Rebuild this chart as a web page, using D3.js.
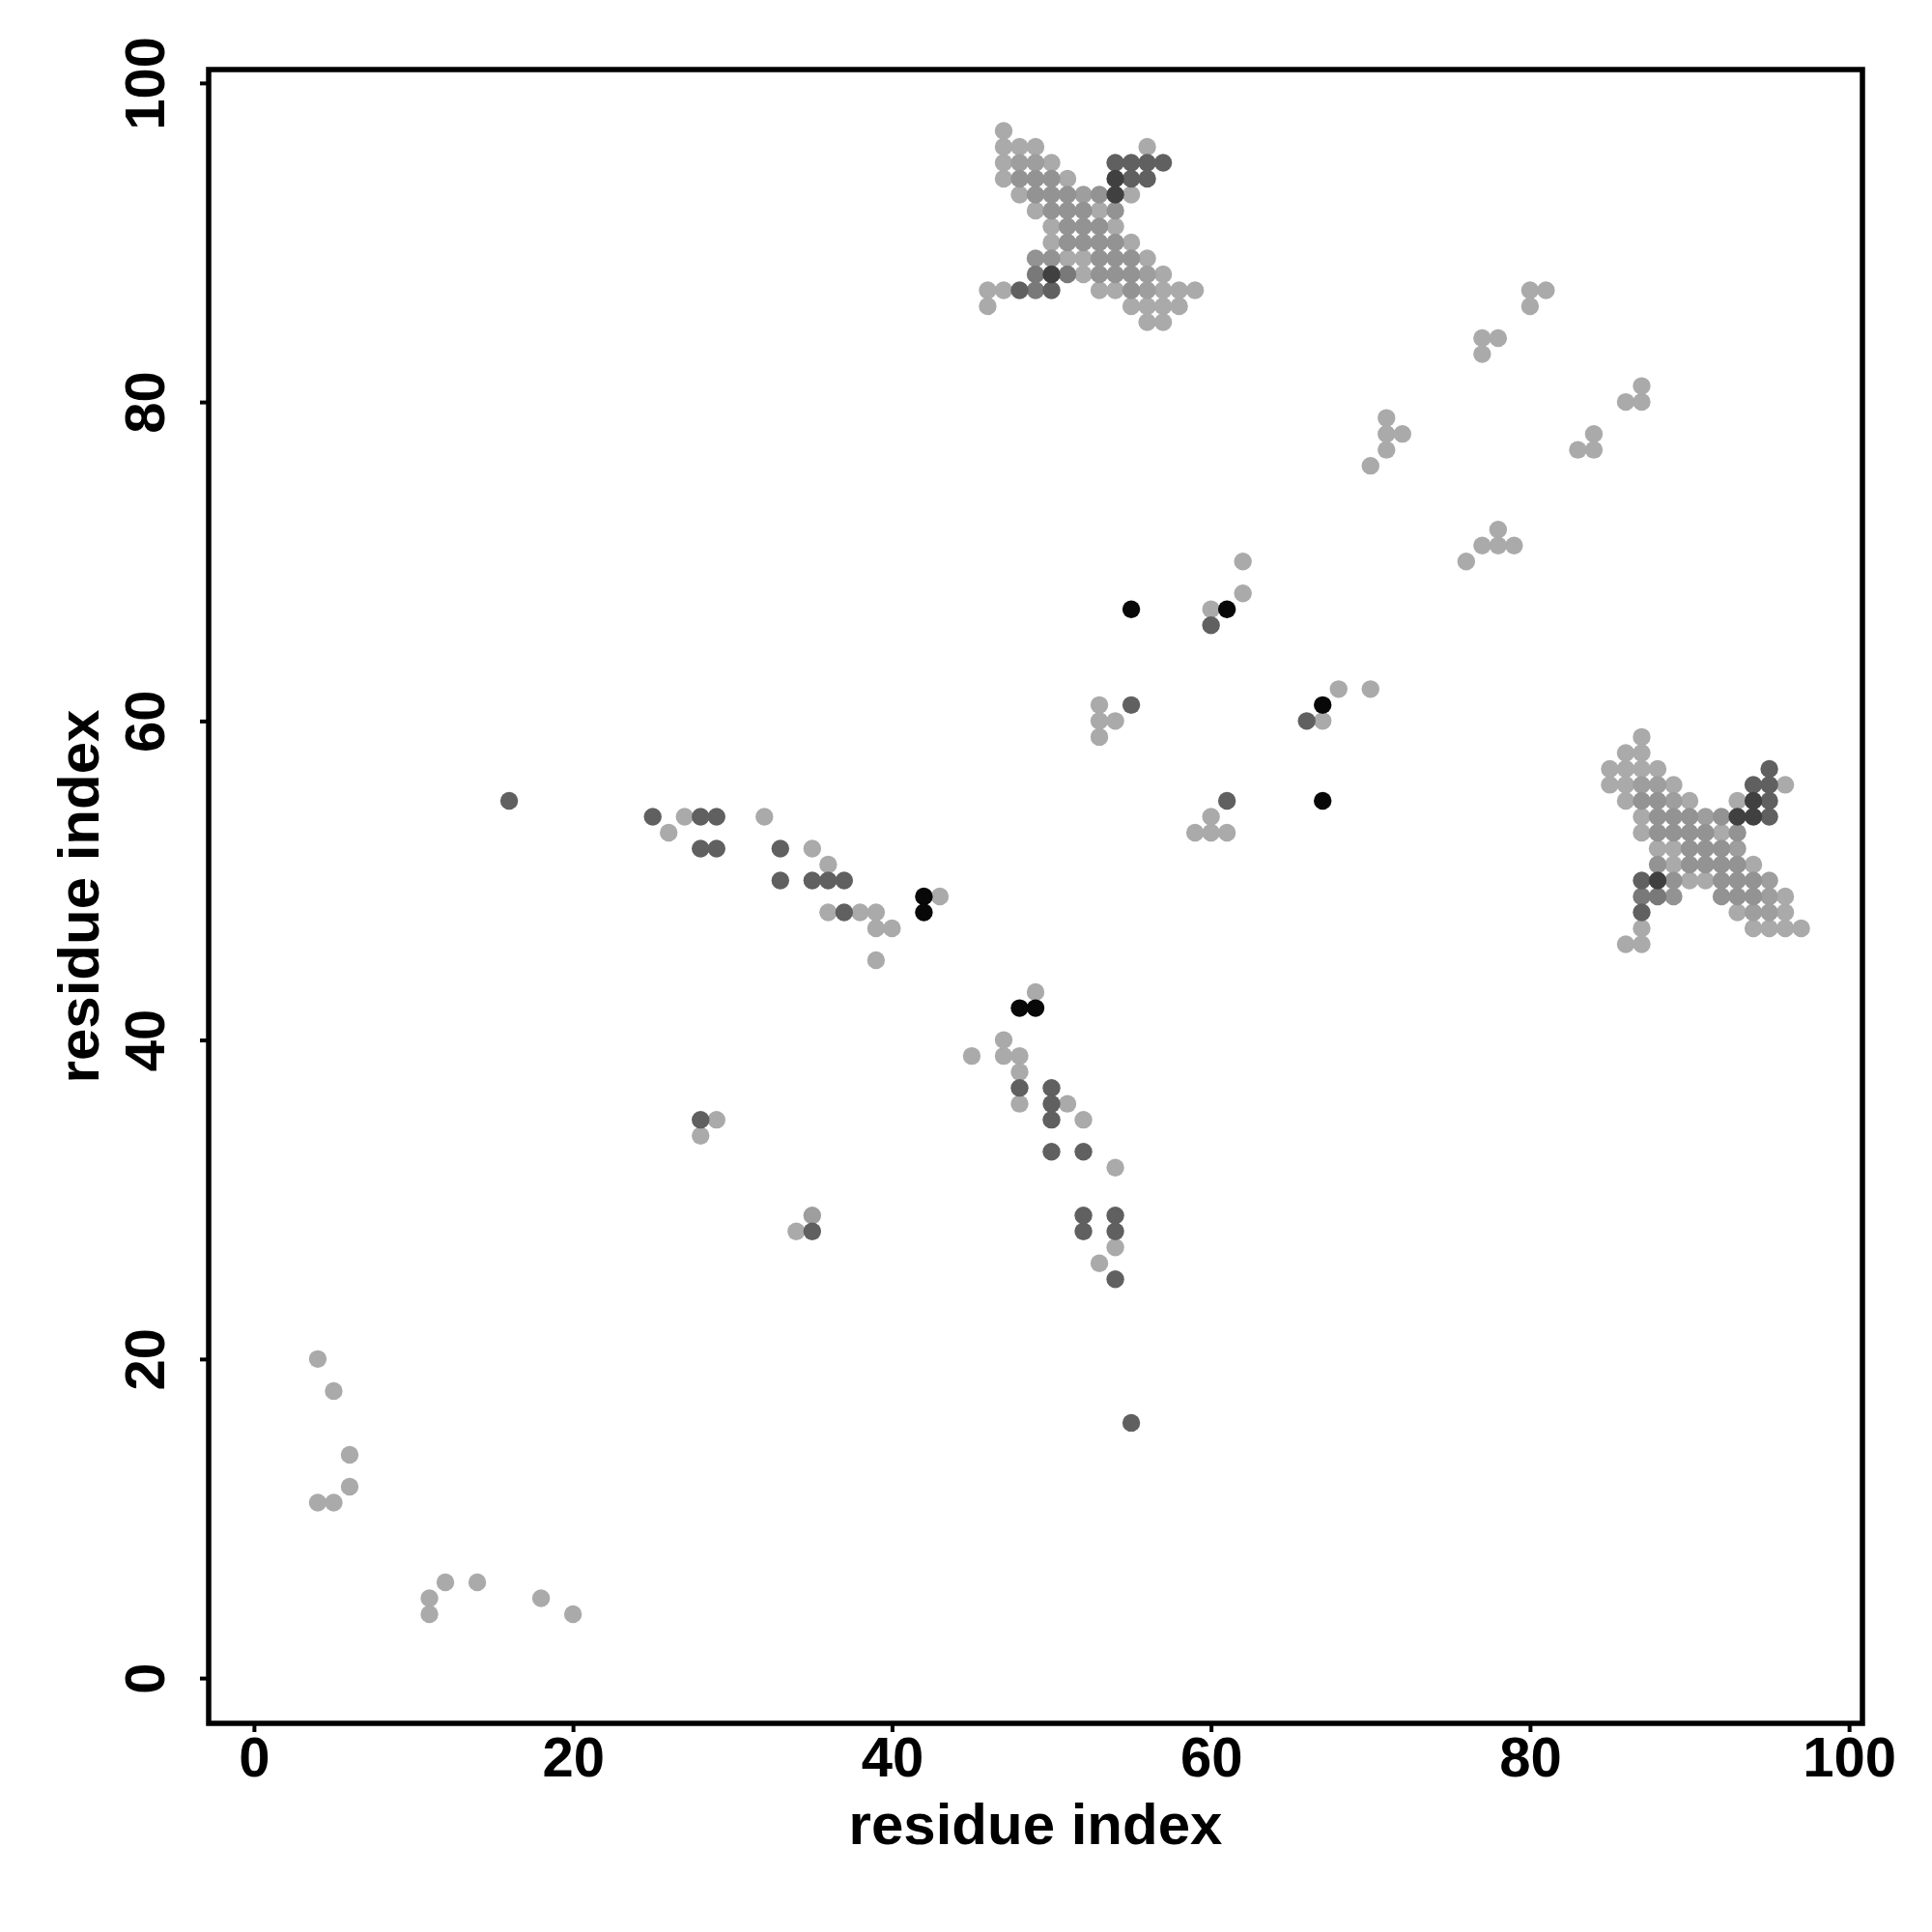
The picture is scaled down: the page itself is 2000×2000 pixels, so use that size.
<!DOCTYPE html>
<html>
<head>
<meta charset="utf-8">
<script src="https://cdn.jsdelivr.net/npm/d3@7"></script>
<style>
  html, body { margin: 0; padding: 0; background: #ffffff; }
  svg { display: block; }
  text { font-family: "Liberation Sans", Arial, Helvetica, sans-serif; font-weight: bold; }
</style>
</head>
<body>
<svg id="chart" width="2000" height="2000"></svg>
<script>
// ---------- data (residue i, residue j) grouped by grey shade ----------
const axisTicks = [0, 20, 40, 60, 80, 100];
const axisTitleX = "residue index";
const axisTitleY = "residue index";

const lightContacts = [
  [4,20],[5,18],[6,14],[6,12],[4,11],[5,11],[12,6],[14,6],[11,5],[11,4],[18,5],[20,4],
  [27,54],[26,53],[32,54],[35,52],[36,51],[43,49],[36,48],[38,48],[39,48],[39,47],[40,47],[39,45],
  [29,35],[28,34],[34,28],
  [49,43],[47,40],[45,39],[47,39],[48,39],[48,38],[48,36],[51,36],[52,35],[54,32],[54,27],[53,26],
  [62,70],[62,68],[60,67],[53,61],[53,60],[54,60],[53,59],[68,62],[70,62],[67,60],[60,54],[59,53],[60,53],[61,53],
  [80,87],[81,87],[80,86],[77,84],[78,84],[77,83],[84,78],[83,77],[84,77],[78,72],[77,71],[78,71],[79,71],[76,70],
  [71,79],[71,78],[72,78],[71,77],[70,76],[86,80],[87,80],[87,81],
  [47,97],[47,96],[48,96],[49,96],[56,96],[47,95],[50,95],[47,94],[51,94],[48,93],[55,93],[49,92],[53,92],
  [50,91],[54,91],[50,90],[55,90],[51,89],[52,89],[56,89],[52,88],[57,88],[46,87],[47,87],[53,87],[54,87],
  [57,87],[58,87],[59,87],[46,86],[55,86],[56,86],[57,86],[58,86],[56,85],[57,85],
  [87,59],[86,58],[87,58],[85,57],[86,57],[87,57],[88,57],[85,56],[86,56],[89,56],[96,56],[86,55],[90,55],
  [93,55],[87,54],[87,53],[92,53],[88,52],[89,52],[89,51],[94,51],[90,50],[91,50],[96,49],[93,48],[96,48],
  [87,47],[94,47],[95,47],[96,47],[97,47],[86,46],[87,46]
];

const lightMidContacts = [
  [35,29],
  [48,95],[49,95],[52,93],[56,88],[56,87],
  [87,56],[88,56],[89,55],[91,54],[93,52],[95,50],[95,49],[94,48],[95,48]
];

const midContacts = [
  [48,94],[49,94],[50,94],[49,93],[50,93],[51,93],[53,93],[50,92],[51,92],[52,92],[54,92],[51,91],[52,91],
  [53,91],[51,90],[52,90],[53,90],[54,90],[49,89],[50,89],[53,89],[54,89],[55,89],[53,88],[54,88],[55,88],[55,87],
  [87,55],[88,55],[88,54],[89,54],[90,54],[92,54],[88,53],[89,53],[90,53],[91,53],[93,53],[90,52],[91,52],
  [92,52],[88,51],[90,51],[91,51],[92,51],[93,51],[89,50],[92,50],[93,50],[94,50],[89,49],[92,49],[93,49],[94,49]
];

const midDarkContacts = [
  [49,88],[51,88],[49,87],
  [87,49],[88,49]
];

const darkContacts = [
  [16,55],[25,54],[28,54],[29,54],[28,52],[29,52],[33,52],[33,50],[35,50],[36,50],[37,50],[37,48],
  [28,35],[35,28],[48,37],[50,37],[50,36],[50,35],[50,33],[52,33],[52,29],[52,28],[54,29],[54,28],[54,25],[55,16],
  [60,66],[55,61],[66,60],[61,55],
  [54,95],[55,95],[56,95],[57,95],[55,94],[56,94],[48,87],[50,87],
  [95,57],[94,56],[95,56],[95,55],[95,54],[87,50],[87,48]
];

const veryDarkContacts = [
  [54,94],[54,93],[50,88],
  [94,55],[93,54],[94,54],[88,50]
];

const blackContacts = [
  [42,49],[42,48],[48,42],[49,42],[55,67],[61,67],[67,61],[67,55]
];

const shadeSeries = [
  { name: "light",    color: "#aaaaaa", points: lightContacts },
  { name: "lightMid", color: "#9e9e9e", points: lightMidContacts },
  { name: "mid",      color: "#939393", points: midContacts },
  { name: "midDark",  color: "#797979", points: midDarkContacts },
  { name: "dark",     color: "#606060", points: darkContacts },
  { name: "veryDark", color: "#404040", points: veryDarkContacts },
  { name: "black",    color: "#080808", points: blackContacts }
];

// ---------- layout ----------
const plotLeft = 216, plotRight = 1928, plotTop = 72, plotBottom = 1784;
const axisRange = [-2.84, 100.84];

const svg = d3.select("#chart");
svg.append("rect").attr("width", 2000).attr("height", 2000).attr("fill", "#ffffff");

const x = d3.scaleLinear().domain(axisRange).range([plotLeft, plotRight]);
const y = d3.scaleLinear().domain(axisRange).range([plotBottom, plotTop]);

// points
const pts = svg.append("g");
shadeSeries.forEach(s => {
  pts.append("g")
    .attr("fill", s.color)
    .selectAll("circle")
    .data(s.points)
    .join("circle")
    .attr("cx", d => x(d[0]))
    .attr("cy", d => y(d[1]))
    .attr("r", 9.2);
});

// box
svg.append("rect")
  .attr("x", plotLeft).attr("y", plotTop)
  .attr("width", plotRight - plotLeft).attr("height", plotBottom - plotTop)
  .attr("fill", "none").attr("stroke", "#000").attr("stroke-width", 5.5);

// x axis
const gx = svg.append("g")
  .attr("transform", `translate(0,${plotBottom})`)
  .call(d3.axisBottom(x).tickValues(axisTicks).tickSize(9).tickFormat(d3.format("d")));
gx.select(".domain").remove();
gx.selectAll(".tick line").attr("stroke", "#000").attr("stroke-width", 4);
gx.selectAll(".tick text")
  .attr("y", 55).attr("dy", null)
  .attr("fill", "#000")
  .style("font-size", "58px")
  .style("font-weight", "bold");

// y axis
const gy = svg.append("g")
  .attr("transform", `translate(${plotLeft},0)`)
  .call(d3.axisLeft(y).tickValues(axisTicks).tickSize(9).tickFormat(d3.format("d")));
gy.select(".domain").remove();
gy.selectAll(".tick line").attr("stroke", "#000").attr("stroke-width", 4);
gy.selectAll(".tick text")
  .attr("x", null).attr("dy", null).attr("y", null)
  .attr("text-anchor", "middle")
  .attr("transform", "translate(-46,0) rotate(-90)")
  .attr("fill", "#000")
  .style("font-size", "58px")
  .style("font-weight", "bold");

// axis titles
svg.append("text")
  .attr("x", (plotLeft + plotRight) / 2).attr("y", 1909)
  .attr("text-anchor", "middle")
  .style("font-size", "60px")
  .text(axisTitleX);

svg.append("text")
  .attr("transform", `translate(102,${(plotTop + plotBottom) / 2}) rotate(-90)`)
  .attr("text-anchor", "middle")
  .style("font-size", "60px")
  .text(axisTitleY);
</script>
</body>
</html>
